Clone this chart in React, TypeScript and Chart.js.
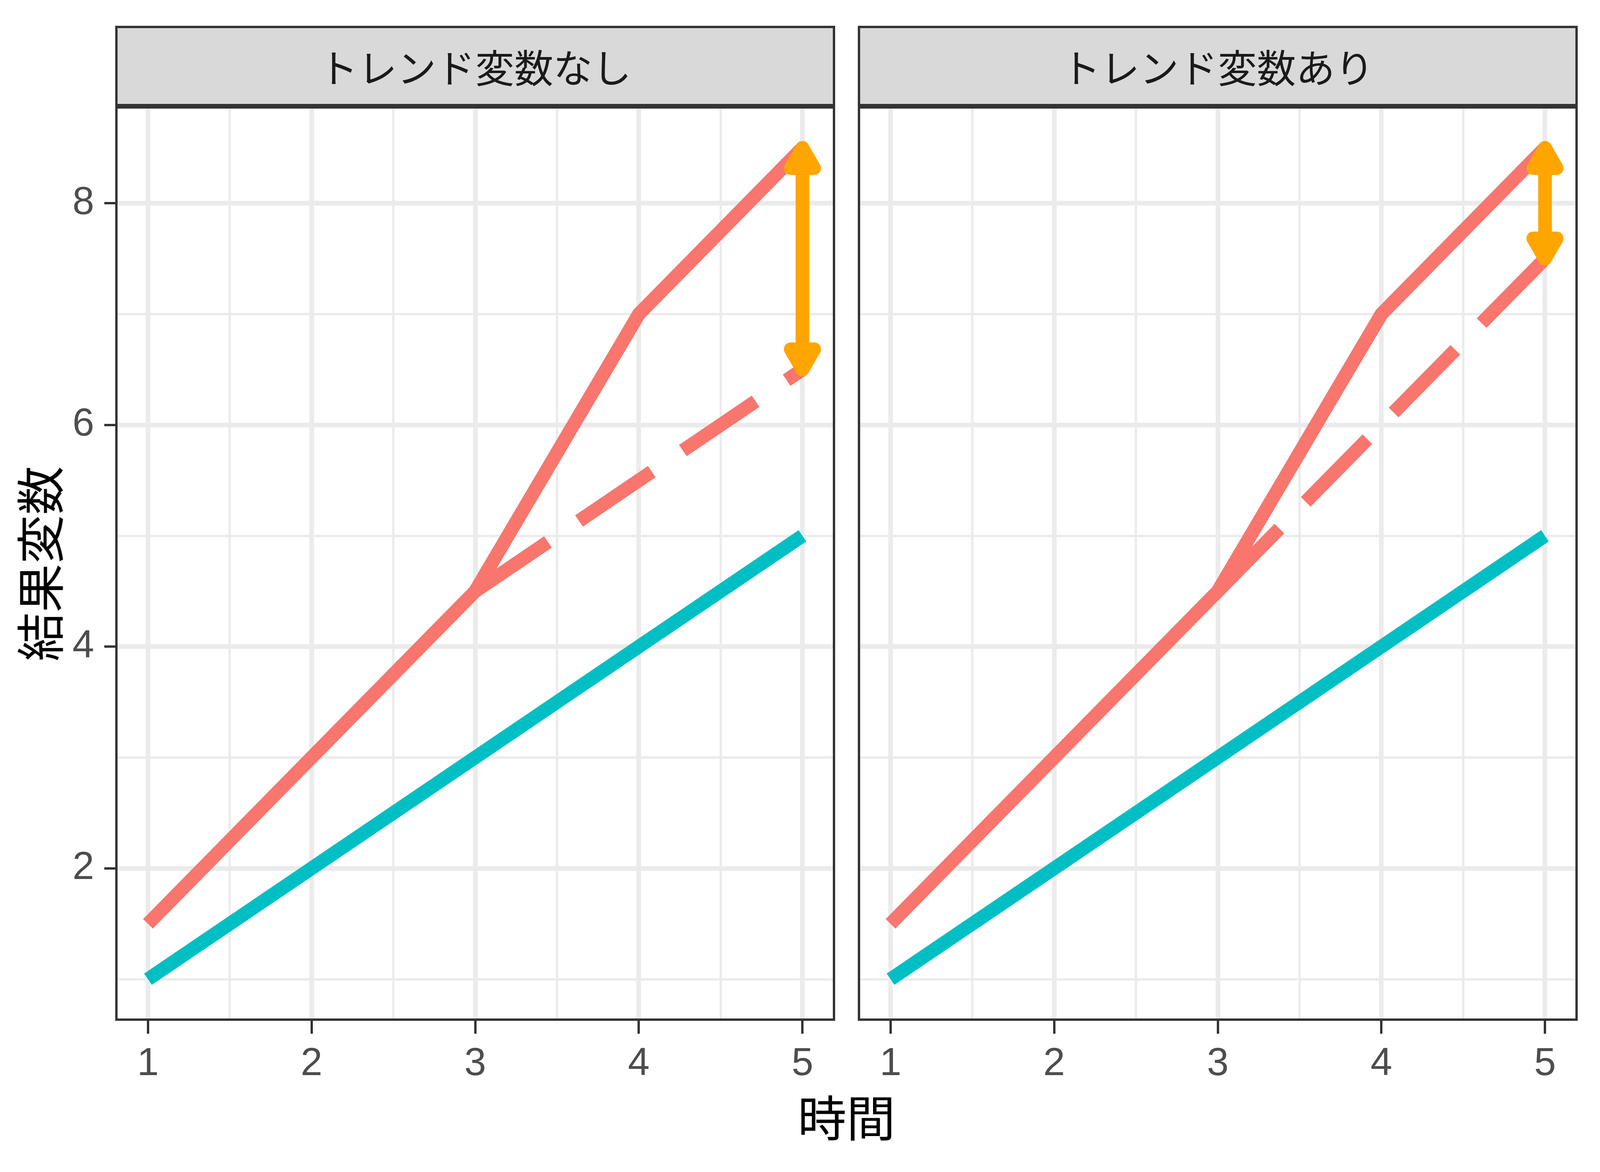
import { useEffect, useRef } from "react";
import { Chart, registerables } from "chart.js";

Chart.register(...registerables);

// data
const times = [1, 2, 3, 4, 5];
const controlGroup = [1, 2, 3, 4, 5];
const treatedGroup = [1.5, 3, 4.5, 7, 8.5];
const postTimes = [3, 4, 5];
const counterfactualNoTrend = [4.5, 5.5, 6.5];
const counterfactualTrend = [4.5, 6, 7.5];
const effectTime = 5;
const effectNoTrend = [8.5, 6.5];
const effectTrend = [8.5, 7.5];
const panelTitles = ["トレンド変数なし", "トレンド変数あり"];
const xMajor = [1, 2, 3, 4, 5];
const xMinor = [1.5, 2.5, 3.5, 4.5];
const yMajor = [2, 4, 6, 8];
const yMinor = [1, 3, 5, 7];
const xTitle = "時間";
const yTitle = "結果変数";

const RED = "#F8766D";
const TEAL = "#00BFC4";
const ORANGE = "#FFA500";
const GRID = "#EBEBEB";
const DARK = "#333333";
const H = 3000;
const AREA_TOP = 272;
const AREA_BOTTOM = 2613;
const LINE_W = 35;
const JP = "'Noto Sans CJK JP', 'Noto Sans', sans-serif";
const LATIN = "'Liberation Sans', Arial, sans-serif";

// the page may be narrower than the 4800px design, so x positions are scaled
const W = typeof window !== "undefined" ? Math.min(window.innerWidth || 4800, 4800) : 4800;
const sx = (v: number) => Math.round((v * W) / 4800);

const panelBorder = {
  id: "panelBorder",
  afterDraw(chart: any) {
    const { ctx, chartArea: a } = chart;
    ctx.save();
    ctx.strokeStyle = DARK;
    ctx.lineWidth = 6;
    ctx.strokeRect(a.left + 3, a.top + 3, a.right - a.left - 6, a.bottom - a.top - 6);
    ctx.restore();
  },
};

const arrowHeads = {
  id: "arrowHeads",
  afterDatasetsDraw(chart: any) {
    const { ctx } = chart;
    chart.data.datasets.forEach((ds: any, i: number) => {
      if (!ds.arrow) return;
      const pts = chart.getDatasetMeta(i).data;
      ctx.save();
      ctx.fillStyle = ds.borderColor;
      ctx.strokeStyle = ds.borderColor;
      ctx.lineWidth = LINE_W;
      ctx.lineJoin = "round";
      [
        [pts[0], pts[1]],
        [pts[1], pts[0]],
      ].forEach(([tip, other]: any[]) => {
        const dir = other.y > tip.y ? 1 : -1;
        ctx.beginPath();
        ctx.moveTo(tip.x, tip.y);
        ctx.lineTo(tip.x - 30, tip.y + dir * 52);
        ctx.lineTo(tip.x + 30, tip.y + dir * 52);
        ctx.closePath();
        ctx.fill();
        ctx.stroke();
      });
      ctx.restore();
    });
  },
};

type PanelProps = {
  canvasLeft: number;
  canvasWidth: number;
  areaLeft: number;
  areaRight: number;
  counterfactual: number[];
  effect: number[];
  showY: boolean;
};

function Panel({ canvasLeft, canvasWidth, areaLeft, areaRight, counterfactual, effect, showY }: PanelProps) {
  const chartRef = useRef<HTMLCanvasElement | null>(null);

  useEffect(() => {
    if (!chartRef.current) return;

    const chart = new Chart(chartRef.current, {
      type: "line",
      data: {
        datasets: [
          { data: times.map((t, i) => ({ x: t, y: controlGroup[i] })), borderColor: TEAL },
          { data: times.map((t, i) => ({ x: t, y: treatedGroup[i] })), borderColor: RED },
          {
            data: postTimes.map((t, i) => ({ x: t, y: counterfactual[i] })),
            borderColor: RED,
            borderDash: [225, 96],
          },
          {
            data: effect.map((v) => ({ x: effectTime, y: v })),
            borderColor: ORANGE,
            arrow: true,
          } as any,
        ],
      },
      options: {
        animation: false,
        responsive: false,
        devicePixelRatio: 1,
        events: [],
        layout: {
          padding: { left: 0, right: canvasWidth - areaRight, top: AREA_TOP, bottom: 0 },
        },
        elements: {
          line: {
            borderWidth: LINE_W,
            borderCapStyle: "butt",
            borderJoinStyle: "round",
            tension: 0,
            fill: false,
          },
          point: { radius: 0 },
        },
        plugins: { legend: { display: false }, tooltip: { enabled: false } },
        scales: {
          x: {
            type: "linear",
            min: 0.8,
            max: 5.2,
            afterBuildTicks: (s: any) => {
              s.ticks = [...xMajor, ...xMinor].sort((a, b) => a - b).map((value) => ({ value }));
            },
            afterFit: (s: any) => {
              s.height = H - AREA_BOTTOM;
            },
            border: { display: false },
            grid: {
              color: GRID,
              lineWidth: (c: any) => (xMajor.includes(c.tick?.value) ? 12 : 6),
              tickColor: (c: any) => (xMajor.includes(c.tick?.value) ? DARK : "rgba(0,0,0,0)"),
              tickWidth: 6,
              tickLength: 33,
            },
            ticks: {
              autoSkip: false,
              maxRotation: 0,
              padding: 18,
              color: "#4D4D4D",
              font: { family: LATIN, size: 100 },
              callback: (v: any) => (xMajor.includes(v) ? String(v) : ""),
            },
          },
          y: {
            type: "linear",
            min: 0.625,
            max: 8.875,
            afterBuildTicks: (s: any) => {
              s.ticks = [...yMinor, ...yMajor].sort((a, b) => a - b).map((value) => ({ value }));
            },
            afterFit: (s: any) => {
              s.width = areaLeft;
            },
            border: { display: false },
            grid: {
              color: GRID,
              lineWidth: (c: any) => (yMajor.includes(c.tick?.value) ? 12 : 6),
              tickColor: (c: any) => (yMajor.includes(c.tick?.value) ? DARK : "rgba(0,0,0,0)"),
              tickWidth: 6,
              tickLength: sx(33),
              drawTicks: showY,
            },
            ticks: {
              display: showY,
              autoSkip: false,
              padding: sx(31),
              color: "#4D4D4D",
              font: { family: LATIN, size: 100 },
              callback: (v: any) => (yMajor.includes(v) ? String(v) : ""),
            },
          },
        },
      },
      plugins: [panelBorder, arrowHeads],
    });

    return () => chart.destroy();
  }, [canvasWidth, areaLeft, areaRight, counterfactual, effect, showY]);

  return (
    <canvas
      ref={chartRef}
      width={canvasWidth}
      height={H}
      style={{ position: "absolute", left: canvasLeft, top: 0, width: canvasWidth, height: H }}
    />
  );
}

function Strip({ left, width, text }: { left: number; width: number; text: string }) {
  return (
    <div
      style={{
        position: "absolute",
        left,
        top: 66,
        width,
        height: 206,
        boxSizing: "border-box",
        border: `6px solid ${DARK}`,
        background: "#D9D9D9",
        color: "#1A1A1A",
        fontFamily: JP,
        fontSize: 100,
        lineHeight: 1,
        display: "flex",
        alignItems: "center",
        justifyContent: "center",
      }}
    >
      {text}
    </div>
  );
}

export default function App() {
  const split = sx(2540);
  return (
    <div
      style={{
        position: "absolute",
        left: 0,
        top: 0,
        width: W,
        height: H,
        background: "#FFFFFF",
        overflow: "hidden",
      }}
    >
      <Panel
        canvasLeft={0}
        canvasWidth={split}
        areaLeft={sx(346)}
        areaRight={sx(2506)}
        counterfactual={counterfactualNoTrend}
        effect={effectNoTrend}
        showY={true}
      />
      <Panel
        canvasLeft={split}
        canvasWidth={W - split}
        areaLeft={sx(2573) - split}
        areaRight={sx(4733) - split}
        counterfactual={counterfactualTrend}
        effect={effectTrend}
        showY={false}
      />
      <Strip left={sx(346)} width={sx(2506) - sx(346)} text={panelTitles[0]} />
      <Strip left={sx(2573)} width={sx(4733) - sx(2573)} text={panelTitles[1]} />
      <div
        style={{
          position: "absolute",
          left: sx(2539),
          top: 2854,
          transform: "translate(-50%, -50%)",
          fontFamily: JP,
          fontSize: 125,
          lineHeight: 1,
          color: "#000000",
          whiteSpace: "nowrap",
        }}
      >
        {xTitle}
      </div>
      <div
        style={{
          position: "absolute",
          left: sx(112),
          top: 1443,
          transform: "translate(-50%, -50%) rotate(-90deg)",
          fontFamily: JP,
          fontSize: 125,
          lineHeight: 1,
          color: "#000000",
          whiteSpace: "nowrap",
        }}
      >
        {yTitle}
      </div>
    </div>
  );
}
